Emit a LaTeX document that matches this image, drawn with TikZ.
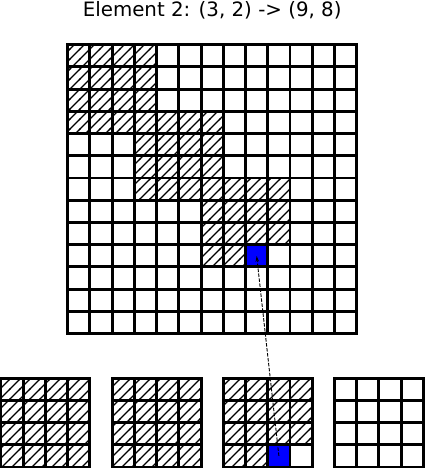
\documentclass[tikz,border=0pt]{standalone}
\usepackage{fontspec}
\setmainfont{DejaVu Sans}
\usetikzlibrary{patterns,arrows.meta}
\pgfdeclarepatternformonly{hatchlines}{\pgfqpoint{-1pt}{-1pt}}{\pgfqpoint{11pt}{11pt}}{\pgfqpoint{10pt}{10pt}}{%
  \pgfsetlinewidth{1.1pt}%
  \pgfpathmoveto{\pgfqpoint{-1pt}{-1pt}}%
  \pgfpathlineto{\pgfqpoint{11pt}{11pt}}%
  \pgfusepath{stroke}}
\begin{document}
\begin{tikzpicture}
[
    x=22.23pt, y=22.23pt,
    gridline/.style={draw=black, line width=2.9pt, line cap=rect, step=22.23pt},
    hatched/.style={pattern=hatchlines, pattern color=black},
    bluecell/.style={fill=blue, minimum size=22.23pt, inner sep=0pt, outer sep=0pt},
    link/.style={draw=black, line width=0.9pt, dash pattern=on 3.5pt off 1.5pt, -{Stealth[length=6pt,width=3.5pt]}}
]
    \useasboundingbox (-0.045,-0.09) rectangle (19.118,21.008);
    \node [anchor=base] (title) at (9.5,20.27) {\fontsize{19.8}{24}\selectfont Element 2: (3, 2) -> (9, 8)};
    \fill [hatched] (3,15) rectangle (7,19) (6,12) rectangle (10,16)
        (9,10) rectangle (13,13) (9,9) rectangle (11,10);
    \fill [hatched] (0,0) rectangle (4,4) (5,0) rectangle (9,4)
        (10,1) rectangle (14,4) (10,0) rectangle (12,1);
    \node [bluecell] (bigcell) at (11.5,9.5) {};
    \node [bluecell] (smallcell) at (12.5,0.5) {};
    \draw [gridline] (3,6) grid (16,19);
    \foreach \k in {0,5,10,15}
        \draw [gridline] (\k,0) grid ++(4,4);
    \draw [link] (smallcell.center) -- (bigcell.center);
\end{tikzpicture}
\end{document}
